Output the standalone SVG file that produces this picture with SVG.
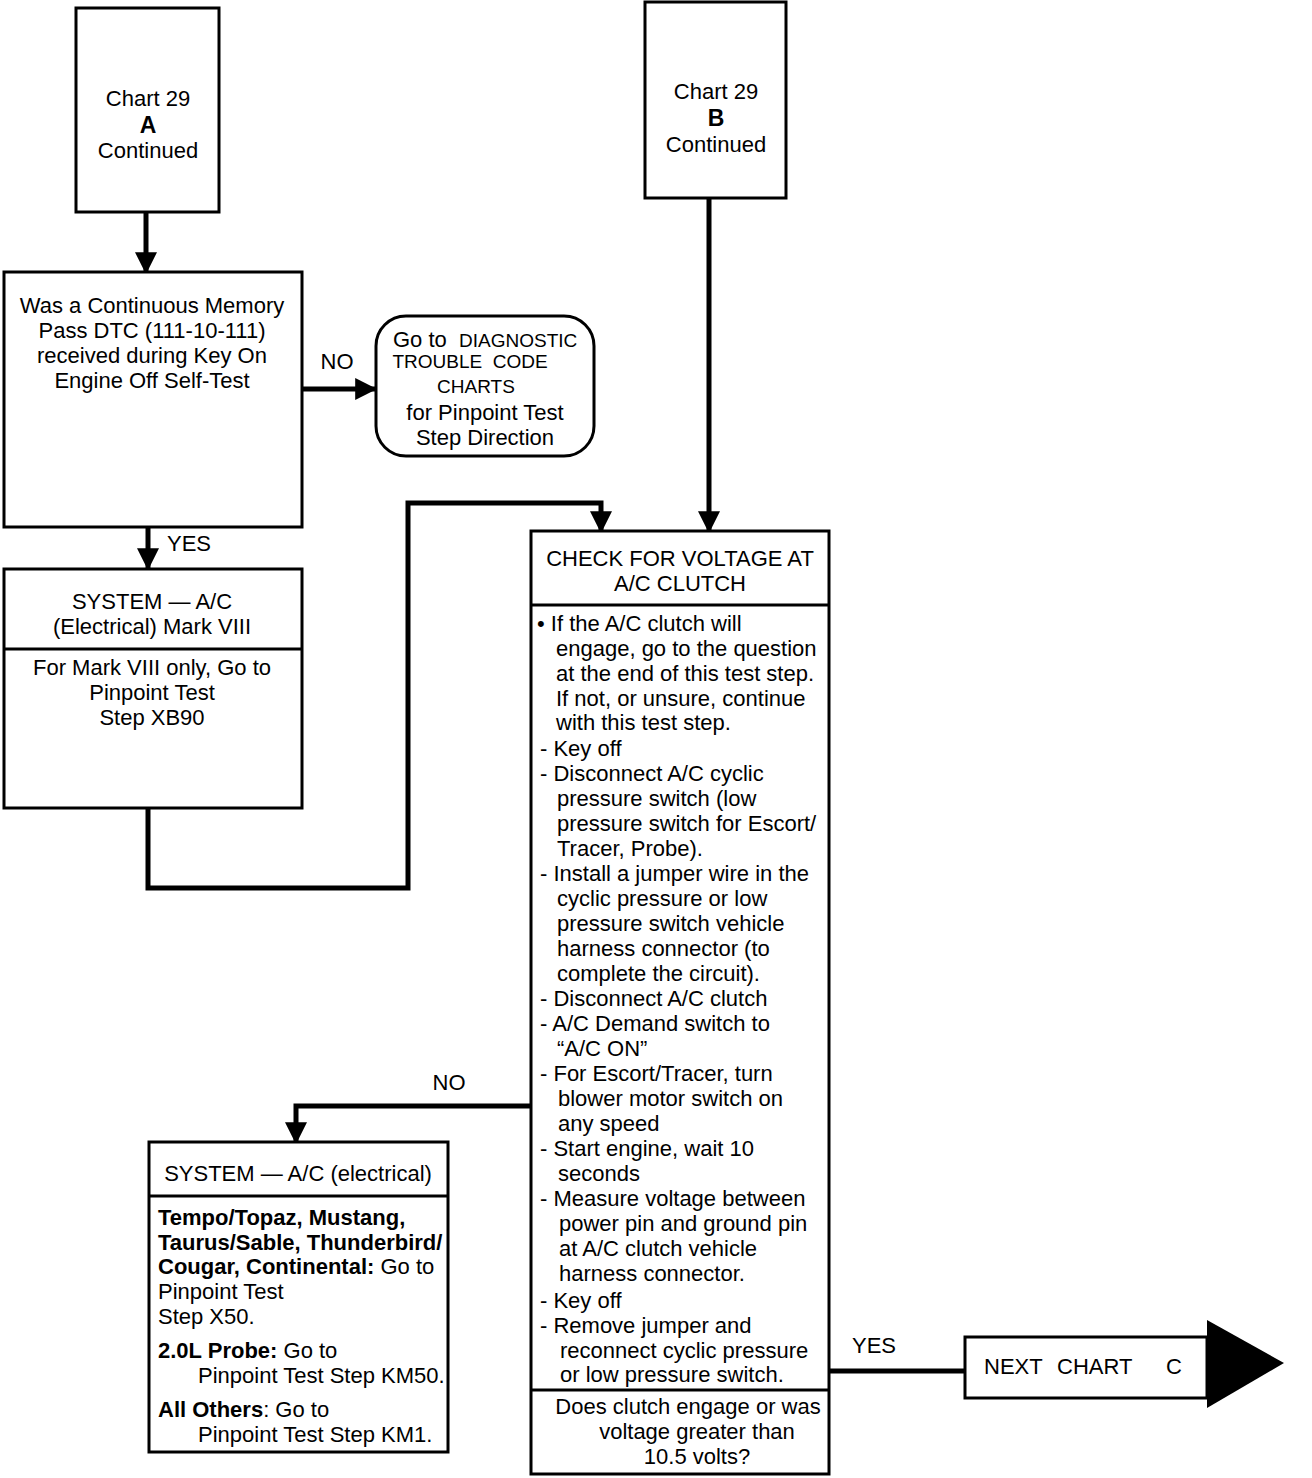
<svg xmlns="http://www.w3.org/2000/svg" width="1312" height="1478" viewBox="0 0 1312 1478">
<style>
.box{fill:#fff;stroke:#000;stroke-width:3}
.div{stroke:#000;stroke-width:3}
.con{fill:none;stroke:#000;stroke-width:5}
text{font-family:"Liberation Sans",Arial,Helvetica,sans-serif;font-size:22px;fill:#000;white-space:pre}
.c{text-anchor:middle}
.b{font-weight:bold}
.n{font-size:19px}
.big{font-size:23px;font-weight:bold}
</style>
<defs>
<marker id="ah" viewBox="0 0 10 10" refX="9" refY="5" markerUnits="userSpaceOnUse" markerWidth="22" markerHeight="22" orient="auto">
<path d="M0,0 L10,5 L0,10 z" fill="#000"/>
</marker>
</defs>
<rect width="1312" height="1478" fill="#fff"/>

<g id="connectors">
<polyline class="con" points="146,212 146,272" marker-end="url(#ah)"/>
<polyline class="con" points="302,389 375,389" marker-end="url(#ah)"/>
<polyline class="con" points="148,527 148,568" marker-end="url(#ah)"/>
<polyline class="con" points="148,808 148,888 408,888 408,503 601,503 601,531" marker-end="url(#ah)"/>
<polyline class="con" points="709,198 709,531" marker-end="url(#ah)"/>
<polyline class="con" points="531,1106 296,1106 296,1142" marker-end="url(#ah)"/>
<polyline class="con" points="829,1371 965,1371"/>
<text x="337" y="369" class="c">NO</text>
<text x="189" y="551" class="c">YES</text>
<text x="449" y="1090" class="c">NO</text>
<text x="874" y="1353" class="c">YES</text>
</g>

<g id="chartA">
<rect class="box" x="76" y="8" width="143" height="204"/>
<text x="148" y="106" class="c">Chart 29</text>
<text x="148" y="133" class="c big">A</text>
<text x="148" y="158" class="c">Continued</text>
</g>

<g id="question1">
<rect class="box" x="4" y="272" width="298" height="255"/>
<text x="152" y="313" class="c">Was a Continuous Memory</text>
<text x="152" y="338" class="c">Pass DTC (111-10-111)</text>
<text x="152" y="363" class="c">received during Key On</text>
<text x="152" y="388" class="c">Engine Off Self-Test</text>
</g>

<g id="goto-dtc">
<rect class="box" x="376" y="316" width="218" height="140" rx="30" ry="30"/>
<text x="393" y="347">Go to  <tspan class="n">DIAGNOSTIC</tspan></text>
<text x="470" y="368" class="c n">TROUBLE  CODE</text>
<text x="476" y="393" class="c n">CHARTS</text>
<text x="485" y="420" class="c">for Pinpoint Test</text>
<text x="485" y="445" class="c">Step Direction</text>
</g>

<g id="system-mark8">
<rect class="box" x="4" y="569" width="298" height="239"/>
<line class="div" x1="4" y1="649" x2="302" y2="649"/>
<text x="152" y="609" class="c">SYSTEM — A/C</text>
<text x="152" y="634" class="c">(Electrical) Mark VIII</text>
<text x="152" y="675" class="c">For Mark VIII only, Go to</text>
<text x="152" y="700" class="c">Pinpoint Test</text>
<text x="152" y="725" class="c">Step XB90</text>
</g>

<g id="chartB">
<rect class="box" x="645" y="2" width="141" height="196"/>
<text x="716" y="99" class="c">Chart 29</text>
<text x="716" y="126" class="c big">B</text>
<text x="716" y="152" class="c">Continued</text>
</g>

<g id="check-voltage">
<rect class="box" x="531" y="531" width="298" height="943"/>
<line class="div" x1="531" y1="605" x2="829" y2="605"/>
<line class="div" x1="531" y1="1390" x2="829" y2="1390"/>
<text x="680" y="566" class="c">CHECK FOR VOLTAGE AT</text>
<text x="680" y="591" class="c">A/C CLUTCH</text>
<text x="537" y="631">• If the A/C clutch will</text>
<text x="556" y="656">engage, go to the question</text>
<text x="556" y="681">at the end of this test step.</text>
<text x="556" y="706">If not, or unsure, continue</text>
<text x="556" y="730">with this test step.</text>
<text x="540" y="756">- Key off</text>
<text x="540" y="781">- Disconnect A/C cyclic</text>
<text x="557" y="806">pressure switch (low</text>
<text x="557" y="831">pressure switch for Escort/</text>
<text x="557" y="856">Tracer, Probe).</text>
<text x="540" y="881">- Install a jumper wire in the</text>
<text x="557" y="906">cyclic pressure or low</text>
<text x="557" y="931">pressure switch vehicle</text>
<text x="557" y="956">harness connector (to</text>
<text x="557" y="981">complete the circuit).</text>
<text x="540" y="1006">- Disconnect A/C clutch</text>
<text x="540" y="1031">- A/C Demand switch to</text>
<text x="557" y="1056">“A/C ON”</text>
<text x="540" y="1081">- For Escort/Tracer, turn</text>
<text x="558" y="1106">blower motor switch on</text>
<text x="558" y="1131">any speed</text>
<text x="540" y="1156">- Start engine, wait 10</text>
<text x="558" y="1181">seconds</text>
<text x="540" y="1206">- Measure voltage between</text>
<text x="559" y="1231">power pin and ground pin</text>
<text x="559" y="1256">at A/C clutch vehicle</text>
<text x="559" y="1281">harness connector.</text>
<text x="540" y="1308">- Key off</text>
<text x="540" y="1333">- Remove jumper and</text>
<text x="560" y="1358">reconnect cyclic pressure</text>
<text x="560" y="1382">or low pressure switch.</text>
<text x="688" y="1414" class="c">Does clutch engage or was</text>
<text x="697" y="1439" class="c">voltage greater than</text>
<text x="697" y="1464" class="c">10.5 volts?</text>
</g>

<g id="system-electrical">
<rect class="box" x="149" y="1142" width="299" height="310"/>
<line class="div" x1="149" y1="1196" x2="448" y2="1196"/>
<text x="298" y="1181" class="c">SYSTEM — A/C (electrical)</text>
<text x="158" y="1225" class="b">Tempo/Topaz, Mustang,</text>
<text x="158" y="1250" class="b">Taurus/Sable, Thunderbird/</text>
<text x="158" y="1274"><tspan class="b">Cougar, Continental:</tspan> Go to</text>
<text x="158" y="1299">Pinpoint Test</text>
<text x="158" y="1324">Step X50.</text>
<text x="158" y="1358"><tspan class="b">2.0L Probe:</tspan> Go to</text>
<text x="198" y="1383">Pinpoint Test Step KM50.</text>
<text x="158" y="1417"><tspan class="b">All Others</tspan>: Go to</text>
<text x="198" y="1442">Pinpoint Test Step KM1.</text>
</g>

<g id="next-chart-c">
<rect class="box" x="965" y="1337" width="242" height="61"/>
<polygon points="1207,1320 1284,1363 1207,1408" fill="#000"/>
<text x="984" y="1374">NEXT</text>
<text x="1057" y="1374">CHART</text>
<text x="1166" y="1374">C</text>
</g>
</svg>
